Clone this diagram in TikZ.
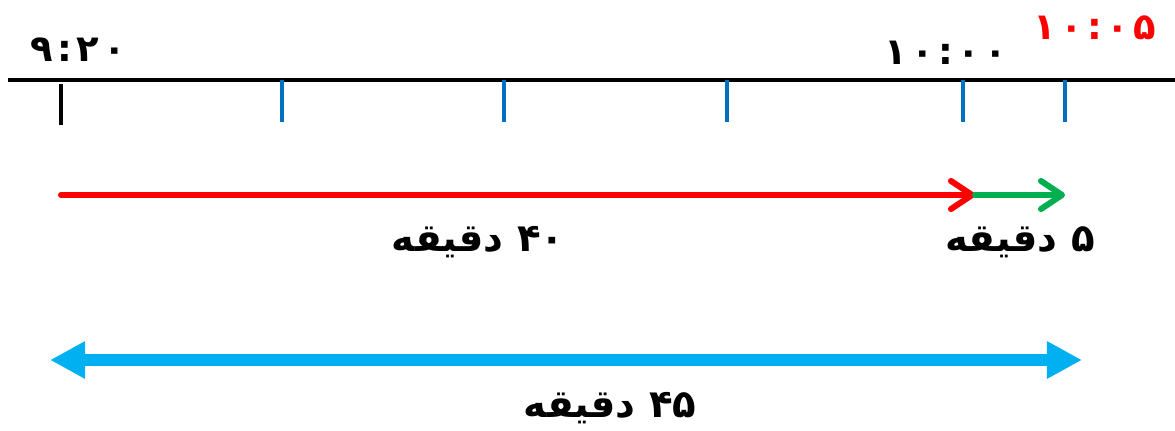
\documentclass[tikz,border=0pt]{standalone}
\usepackage{fontspec}
\newfontfamily\farsifont[Script=Arabic]{DejaVu Sans}
\newfontfamily\farsiclock[Script=Arabic,LetterSpace=12]{DejaVu Sans}
\TeXXeTstate=1
\usetikzlibrary{arrows.meta,positioning}
\definecolor{TickBlue}{HTML}{0070C0}
\definecolor{SpanRed}{HTML}{FF0000}
\definecolor{SpanGreen}{HTML}{00B050}
\definecolor{SpanCyan}{HTML}{00B0F0}
\tikzset{
  axisline/.style={line width=2.8pt,black},
  tickmain/.style={line width=2.8pt,black},
  tickminor/.style={line width=2.8pt,TickBlue},
  spanarrow/.style={-{Straight Barb[length=12pt,width=16pt,round]},line width=3.4pt,line cap=round},
  totalarrow/.style={{Triangle[length=20pt,width=20pt]}-{Triangle[length=20pt,width=20pt]},line width=6.6pt,SpanCyan},
  timelabel/.style={font=\farsiclock\bfseries\fontsize{21}{24}\selectfont},
  spanlabel/.style={font=\farsifont\bfseries\fontsize{22}{26}\selectfont},
}
\begin{document}
\begin{tikzpicture}[x=0.02cm, y=-0.02cm]
  \useasboundingbox (0,0) rectangle (1175,430);

  % Time axis
  \coordinate (axisL) at (8,80);
  \coordinate (axisR) at (1175,80);
  \draw[axisline] (axisL) -- (axisR);

  % Ticks
  \coordinate (t0) at (61,84);
  \draw[tickmain] (t0) -- ++(0,41);
  \foreach \x [count=\i] in {282,504,727,963,1065}
    \coordinate (t\i) at (\x,80);
  \foreach \i in {1,...,5}
    \draw[tickminor] (t\i) -- ++(0,42);

  % Time labels
  \node[timelabel] (lbl920) at (78,50) {۹:۲۰};
  \node[timelabel] (lbl1000) at (946,53) {۱۰:۰۰};
  \node[timelabel, text=SpanRed] (lbl1005) at (1095,28) {۱۰:۰۵};

  % Part spans
  \coordinate (a0) at (61,195);
  \coordinate (a1) at (975,195);
  \coordinate (a2) at (1065,195);
  \draw[spanarrow, SpanRed] (a0) -- (a1);
  \draw[spanarrow, SpanGreen] (a1) -- (a2);
  \node[spanlabel] (lbl40) at (478,242) {\beginR\beginL۴۰\endL{} دقیقه\endR};
  \node[spanlabel] (lbl5) at (1020,242) {\beginR\beginL۵\endL{} دقیقه\endR};

  % Total span
  \coordinate (b0) at (50,360);
  \coordinate (b1) at (1082,360);
  \draw[totalarrow] (b0) -- (b1);
  \node[spanlabel] (lbl45) at (610,408) {\beginR\beginL۴۵\endL{} دقیقه\endR};
\end{tikzpicture}
\end{document}
